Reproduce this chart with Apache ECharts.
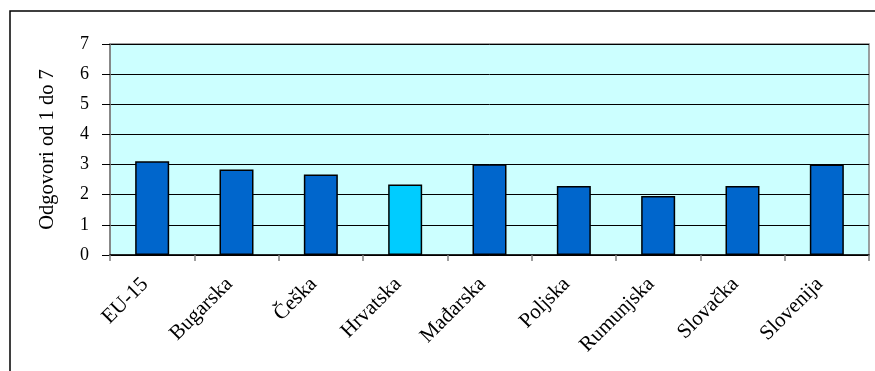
<!DOCTYPE html>
<html>
<head>
<meta charset="utf-8">
<script src="https://cdn.jsdelivr.net/npm/echarts@6/dist/echarts.min.js"></script>
<style>
  html, body { margin: 0; padding: 0; background: #ffffff; }
  #chart { width: 875px; height: 371px; }
</style>
</head>
<body>
<div id="chart"></div>
<script>
// Countries on the category axis
const categories = ['EU-15', 'Bugarska', 'Češka', 'Hrvatska', 'Mađarska', 'Poljska', 'Rumunjska', 'Slovačka', 'Slovenija'];
// Average answer on a 1–7 scale
const values = [3.11, 2.84, 2.67, 2.34, 3.01, 2.29, 1.96, 2.29, 3.00];
// Country drawn in the lighter colour
const highlighted = 'Hrvatska';
const axisTitle = 'Odgovori od 1 do 7';

const serif = 'Liberation Serif';
const DARK = '#0066CC';
const LIGHT = '#00CCFF';

const chart = echarts.init(document.getElementById('chart'), null, { renderer: 'canvas' });

chart.setOption({
  animation: false,
  backgroundColor: '#ffffff',
  grid: {
    left: 110, top: 44, right: 6, bottom: 116,
    show: true,
    backgroundColor: '#CCFFFF',
    borderColor: '#808080',
    borderWidth: 1.5
  },
  graphic: [{
    type: 'rect',
    left: 7.5, top: 8.5,
    shape: { x: 0, y: 0, width: 900, height: 400 },
    style: { fill: 'none', stroke: '#000000', lineWidth: 1.5 },
    silent: true,
    z: 100
  }],
  xAxis: {
    type: 'category',
    data: categories,
    axisLine: { show: true, lineStyle: { color: '#000000', width: 1.5 } },
    axisTick: { show: true, length: 6, lineStyle: { color: '#808080', width: 1.5 } },
    axisLabel: {
      rotate: 45,
      margin: 19,
      padding: [0, 10, 0, 0],
      interval: 0,
      color: '#000000',
      fontFamily: serif,
      fontSize: 21
    },
    splitLine: { show: false }
  },
  yAxis: {
    type: 'value',
    min: 0,
    max: 7,
    interval: 1,
    name: axisTitle,
    nameLocation: 'middle',
    nameGap: 52,
    nameTextStyle: { color: '#000000', fontFamily: serif, fontSize: 20.5 },
    axisLine: { show: true, lineStyle: { color: '#808080', width: 1.5 } },
    axisTick: { show: true, length: 8, lineStyle: { color: '#000000', width: 1 } },
    axisLabel: { margin: 21, color: '#000000', fontFamily: serif, fontSize: 18 },
    splitLine: { show: true, lineStyle: { color: '#000000', width: 1 } }
  },
  series: [{
    type: 'bar',
    barWidth: 34,
    data: values.map((v, i) => ({
      value: v,
      itemStyle: { color: categories[i] === highlighted ? LIGHT : DARK }
    })),
    itemStyle: { borderColor: '#000000', borderWidth: 1.5 },
    label: { show: false }
  }]
});
</script>
</body>
</html>
